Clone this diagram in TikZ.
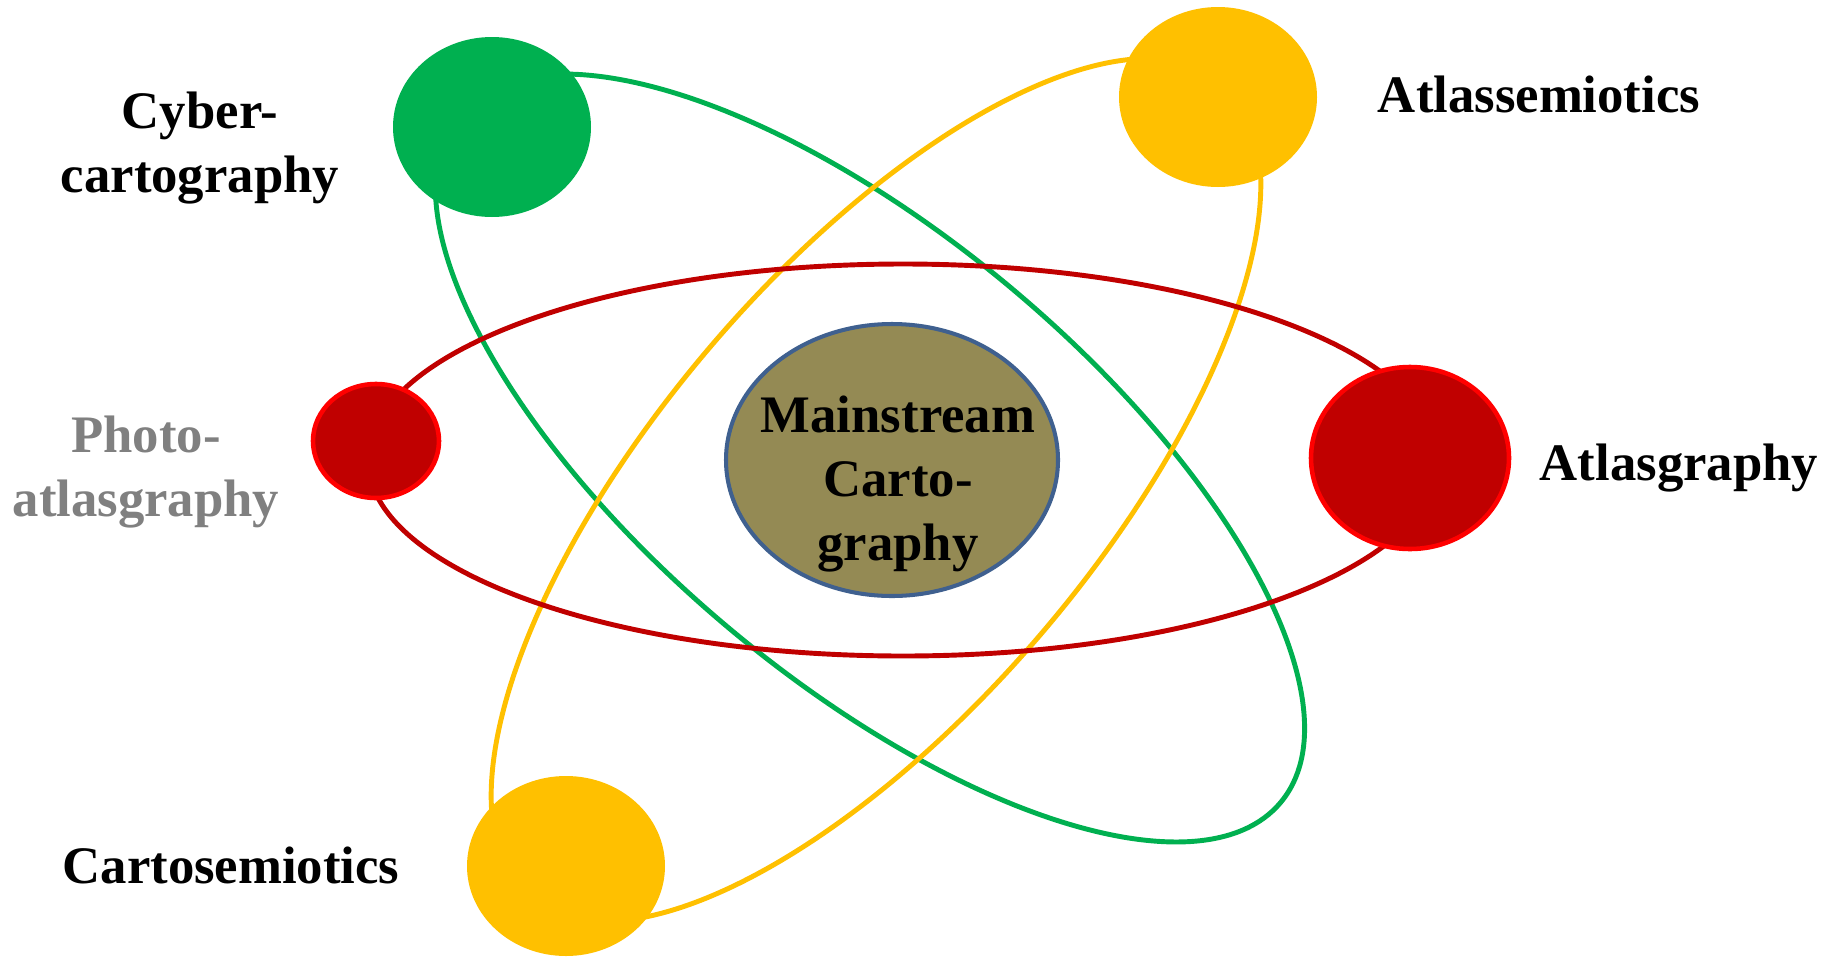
\documentclass[tikz,border=0pt]{standalone}
\usepackage{fontspec}
\setmainfont{Liberation Serif}
\usetikzlibrary{shapes.geometric,positioning}

\definecolor{orbgreen}{HTML}{00B050}
\definecolor{orbyellow}{HTML}{FFC000}
\definecolor{orbred}{HTML}{C00000}
\definecolor{rimred}{HTML}{FF0000}
\definecolor{coreolive}{HTML}{948A54}
\definecolor{coreblue}{HTML}{3F608F}
\definecolor{labelgray}{HTML}{808080}

\begin{document}
\begin{tikzpicture}[x=0.1mm, y=0.1mm,
  orbit/.style={draw=#1, line width=1.4pt},
  planet/.style={ellipse, inner sep=0pt, minimum width=19.8mm, minimum height=18mm, fill=#1},
  redplanet/.style={ellipse, inner sep=0pt, fill=orbred, draw=rimred, line width=1.3pt},
  lbl/.style={font=\fontsize{15}{18.2}\selectfont\bfseries, align=center, inner sep=0pt}
]
\useasboundingbox (0,0) rectangle (1831,959);

% orbits
\draw[orbit=orbgreen, rotate around={-40:(870,501)}] (870,501) ellipse [x radius=53.6mm, y radius=22.1mm];
\draw[orbit=orbyellow, rotate around={49.6:(876,469)}] (876,469) ellipse [x radius=53.5mm, y radius=21.9mm];
\draw[orbit=orbred] (903,499) ellipse [x radius=53.5mm, y radius=19.6mm];

% planets
\node[planet=orbgreen]  (cyber)   at (492,832) {};
\node[planet=orbyellow] (atlsem)  at (1218,862) {};
\node[planet=orbyellow] (cartsem) at (566,93) {};
\node[redplanet, minimum width=12.6mm, minimum height=11.4mm] (photo) at (376,518) {};
\node[redplanet, minimum width=19.8mm, minimum height=18.2mm] (atlgr) at (1410,501) {};
\node[ellipse, inner sep=0pt, fill=coreolive, draw=coreblue, line width=1.15pt,
  minimum width=33.2mm, minimum height=27.2mm] (core) at (892,499) {};
\node[lbl] (corelbl) at (898,475) {Mainstream\\Carto-\\graphy};

% labels
\node[lbl] (cyberlbl) at (200,811) {Cyber-\\cartography};
\node[lbl, anchor=base] (atlsemlbl) at (1539,847) {Atlassemiotics};
\node[lbl, text=labelgray] (photolbl) at (146,487) {Photo-\\atlasgraphy};
\node[lbl, anchor=base] (atlgrlbl) at (1679,479) {Atlasgraphy};
\node[lbl, anchor=base] (cartsemlbl) at (231,76) {Cartosemiotics};
\end{tikzpicture}
\end{document}
